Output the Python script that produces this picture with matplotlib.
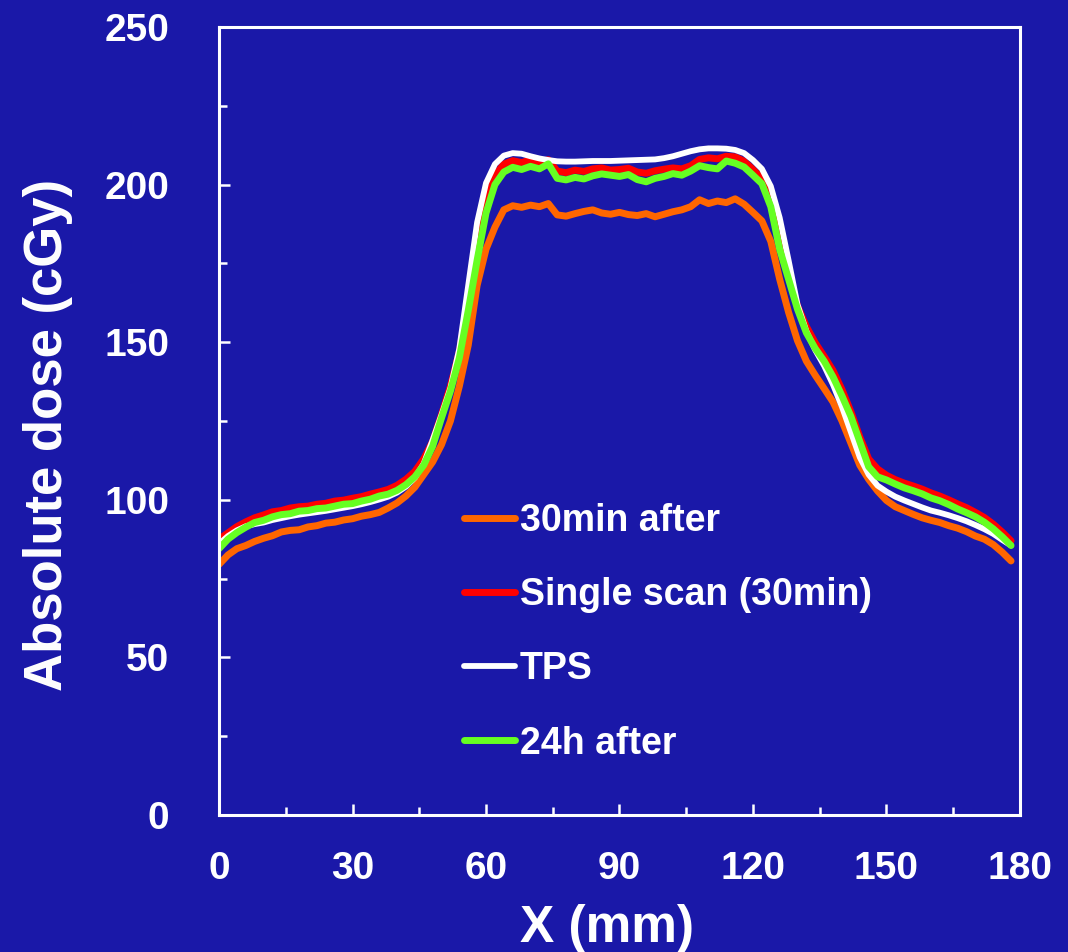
import matplotlib
matplotlib.use("Agg")
import matplotlib.pyplot as plt
from matplotlib.ticker import MultipleLocator

# ---------------- data ----------------
x_mm = list(range(0, 180, 2))

tps = [86.0, 88.5, 90.3, 91.6, 92.3, 92.8, 93.6, 94.2, 94.8, 95.3,
       95.7, 96.1, 96.5, 97.0, 97.5, 98.0, 98.6, 99.3, 100.1, 101.0,
       102.3, 104.2, 107.0, 111.5, 119.0, 127.0, 135.5, 148.0, 168.0, 188.0,
       200.5, 206.5, 209.2, 210.0, 209.8, 209.0, 208.3, 207.8, 207.4, 207.3,
       207.3, 207.4, 207.5, 207.5, 207.5, 207.6, 207.7, 207.8, 207.9, 208.0,
       208.4, 209.0, 209.8, 210.6, 211.2, 211.5, 211.5, 211.4, 211.0, 210.0,
       207.8, 205.0, 199.5, 189.5, 176.0, 162.0, 153.5, 147.5, 142.5, 136.5,
       129.5, 121.5, 113.5, 108.0, 104.5, 102.6, 101.0, 99.8, 98.7, 97.6,
       96.6, 95.9, 95.1, 94.2, 93.2, 92.0, 90.7, 89.2, 87.3, 85.5]

after_30min = [79.5, 82.5, 84.5, 85.5, 86.8, 87.8, 88.6, 89.8, 90.3, 90.5,
               91.4, 91.8, 92.6, 92.9, 93.6, 94.0, 94.8, 95.3, 96.0, 97.4,
               99.0, 101.2, 104.0, 108.0, 112.0, 117.5, 125.0, 136.0, 149.0, 168.0,
               179.5, 186.5, 192.0, 193.3, 192.8, 193.5, 193.0, 194.0, 190.4, 190.0,
               190.8, 191.5, 192.0, 191.0, 190.6, 191.2, 190.5, 190.2, 190.8, 189.8,
               190.6, 191.4, 192.0, 193.0, 195.2, 194.0, 194.8, 194.3, 195.5, 193.8,
               191.2, 188.5, 182.0, 170.0, 159.5, 150.5, 144.0, 139.5, 135.3, 131.0,
               125.0, 118.0, 111.0, 106.5, 102.8, 99.8, 97.8, 96.6, 95.4, 94.3,
               93.5, 92.8, 91.8, 91.0, 89.9, 88.5, 87.5, 85.8, 83.4, 80.6]

single_scan = [87.5, 89.5, 91.5, 93.0, 94.3, 95.2, 96.2, 96.6, 97.4, 97.8,
               98.0, 98.6, 98.9, 99.6, 99.9, 100.5, 101.0, 101.8, 102.5, 103.3,
               104.6, 106.5, 109.0, 113.0, 118.5, 127.0, 136.0, 147.0, 162.5, 179.0,
               194.0, 203.0, 206.5, 207.6, 207.0, 207.8, 207.2, 207.9, 204.3, 203.8,
               204.6, 204.2, 205.0, 205.3, 204.6, 204.8, 205.2, 204.0, 203.6, 204.4,
               204.9, 205.3, 205.0, 206.0, 208.0, 208.5, 208.2, 209.0, 208.8, 207.4,
               204.8, 202.0, 195.0, 182.0, 172.0, 161.5, 155.0, 149.8, 145.5, 141.0,
               135.0, 128.0, 120.0, 113.0, 109.8, 107.8, 106.4, 105.3, 104.4, 103.4,
               102.2, 101.2, 100.0, 98.7, 97.5, 96.0, 94.4, 92.3, 89.8, 87.0]

after_24h = [84.5, 87.5, 89.6, 91.3, 92.8, 93.5, 94.6, 95.3, 95.6, 96.4,
             96.6, 97.2, 97.4, 98.0, 98.6, 98.8, 99.6, 100.2, 101.2, 101.8,
             103.0, 104.8, 107.3, 111.0, 117.0, 126.0, 134.5, 145.0, 160.0, 176.0,
             191.0, 200.0, 204.0, 205.5, 204.8, 205.8, 205.0, 206.6, 202.0, 201.5,
             202.3, 201.8, 202.8, 203.4, 203.0, 202.6, 203.2, 201.6, 200.9, 202.0,
             202.6, 203.5, 203.0, 204.3, 206.0, 205.4, 205.0, 207.5, 206.8, 205.6,
             203.0, 200.3, 193.0, 179.5, 170.0, 160.5, 153.0, 148.0, 144.0, 139.0,
             133.0, 126.5, 118.5, 110.5, 107.3, 106.3, 105.0, 103.8, 102.9, 101.9,
             100.6, 99.7, 98.5, 97.1, 95.9, 94.6, 92.9, 90.8, 88.3, 85.5]

labels = ["30min after", "Single scan (30min)", "TPS", "24h after"]
colors = ["#ff6600", "#ff0000", "#ffffff", "#66ff22"]

# ---------------- plot ----------------
bg = "#1a18a8"
plt.rcParams["font.family"] = ["Liberation Sans", "DejaVu Sans"]
plt.rcParams["font.weight"] = "bold"

fig = plt.figure(figsize=(10.68, 9.52), dpi=100, facecolor=bg)
ax = fig.add_axes([0.2051, 0.1439, 0.7499, 0.8277], facecolor=bg)

ax.plot(x_mm, after_30min, color=colors[0], lw=5, label=labels[0], solid_capstyle="round")
ax.plot(x_mm, single_scan, color=colors[1], lw=5, label=labels[1], solid_capstyle="round")
ax.plot(x_mm, tps, color=colors[2], lw=4.2, label=labels[2], solid_capstyle="round")
ax.plot(x_mm, after_24h, color=colors[3], lw=5, label=labels[3], solid_capstyle="round")

ax.set_xlim(0, 180)
ax.set_ylim(0, 250)
ax.xaxis.set_major_locator(MultipleLocator(30))
ax.xaxis.set_minor_locator(MultipleLocator(15))
ax.yaxis.set_major_locator(MultipleLocator(50))
ax.yaxis.set_minor_locator(MultipleLocator(25))

for s in ax.spines.values():
    s.set_color("white")
    s.set_linewidth(2.2)

ax.tick_params(which="major", direction="in", length=8, width=1.8, color="white",
               labelcolor="white", labelsize=28, pad=26)
ax.tick_params(which="minor", direction="in", length=5.5, width=1.8, color="white")
ax.tick_params(axis="y", pad=36)
for t in ax.get_xticklabels() + ax.get_yticklabels():
    t.set_fontweight("bold")

ax.set_xlabel("X (mm)", color="white", fontsize=37, fontweight="bold", labelpad=12)
ax.xaxis.label.set_x(0.485)
ax.set_ylabel("Absolute dose (cGy)", color="white", fontsize=38, fontweight="bold", labelpad=22)
ax.yaxis.label.set_y(0.482)

leg = ax.legend(loc="upper left", bbox_to_anchor=(0.2635, 0.439), frameon=False,
                fontsize=27, handlelength=1.37, handletextpad=0.12, labelspacing=1.02)
for t in leg.get_texts():
    t.set_color("white")
    t.set_fontweight("bold")

fig.savefig("out.png", dpi=100, facecolor=bg)
